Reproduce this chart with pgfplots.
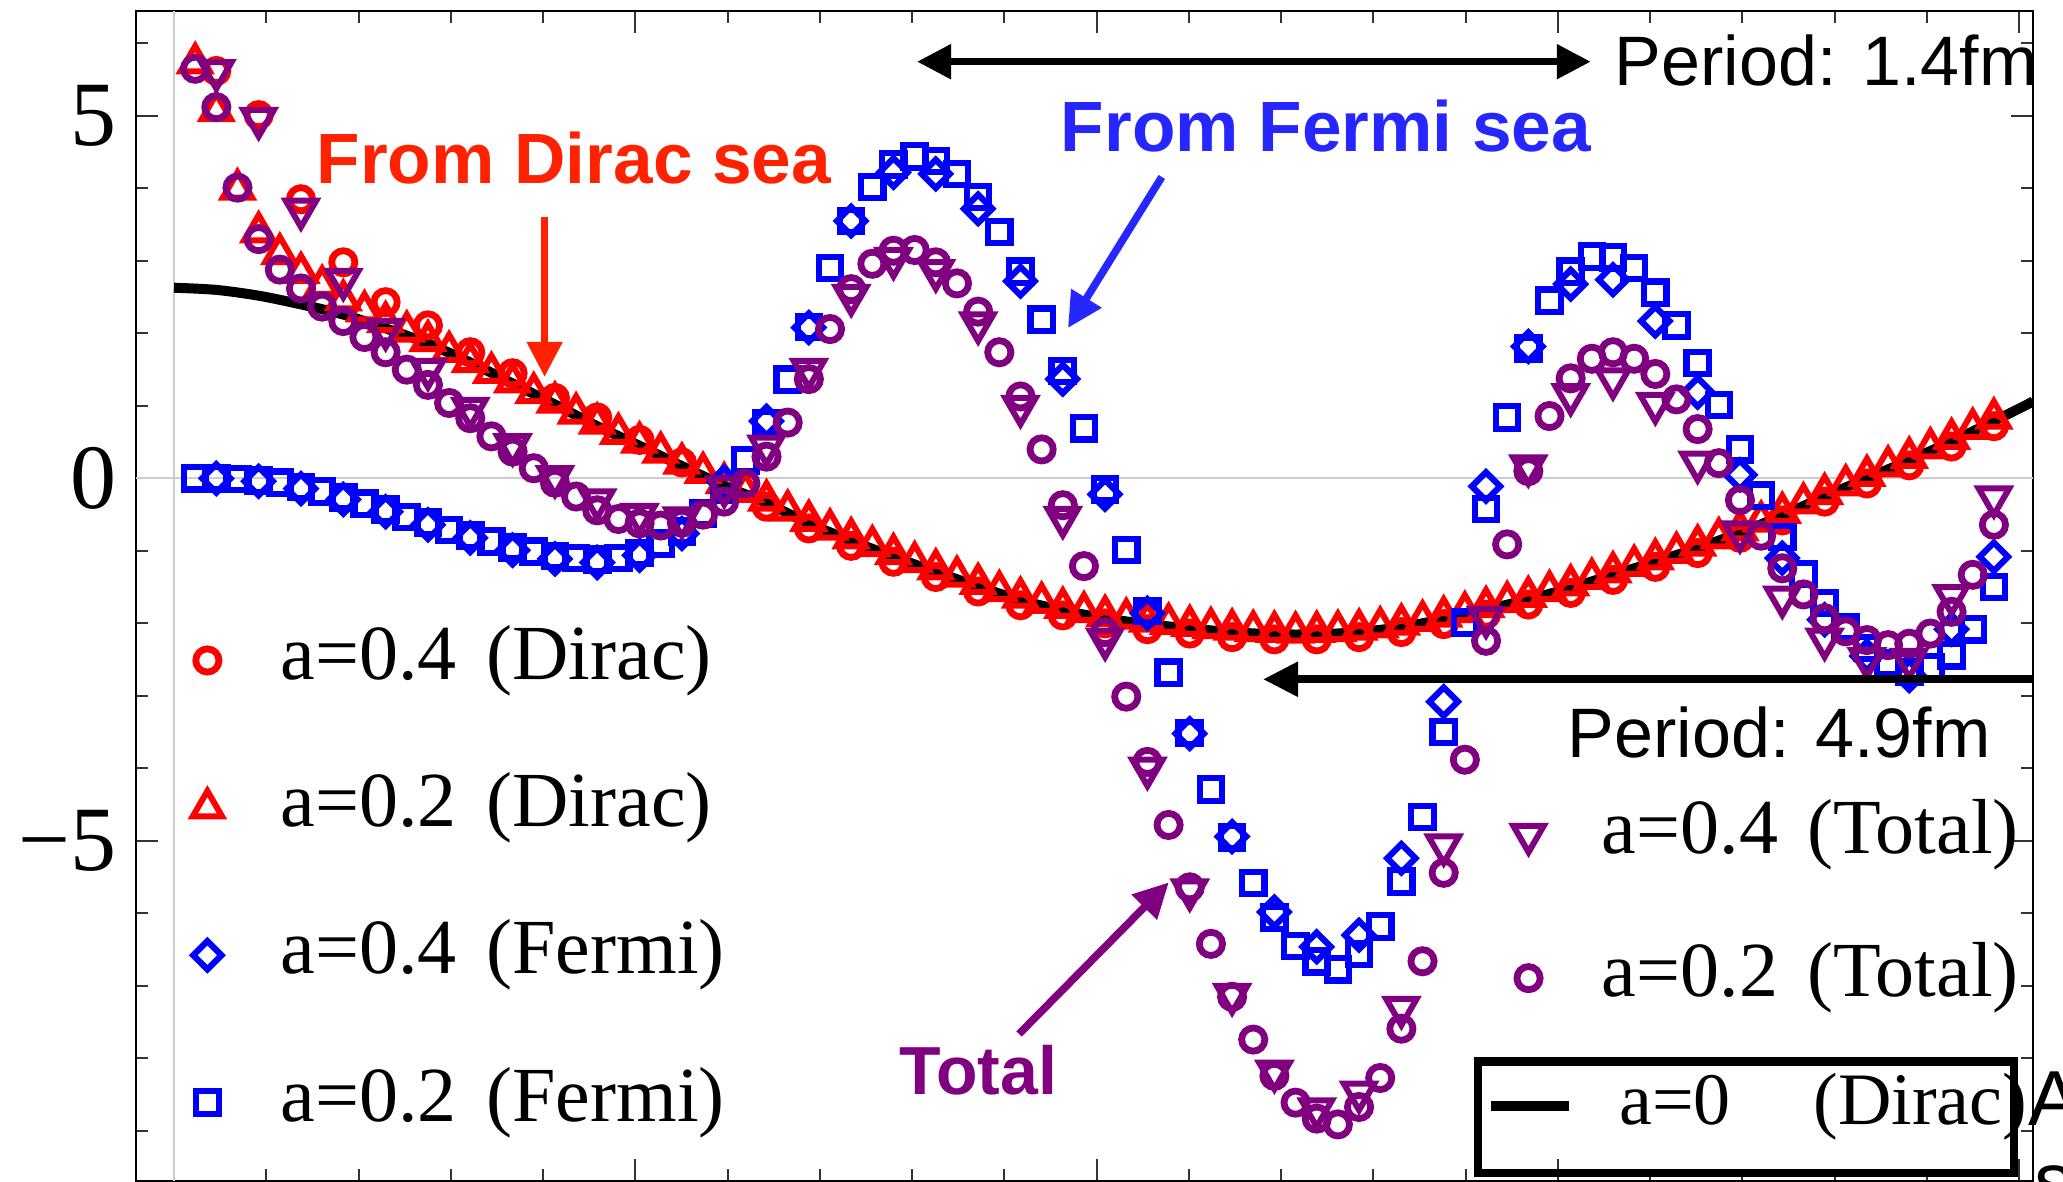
\documentclass[border=0pt]{standalone}
\usepackage{fontspec}
\setmainfont{Liberation Serif}
\newfontfamily\lsans{Liberation Sans}
\usepackage{pgfplots}
\usepackage{pgfplotstable}
\pgfplotsset{compat=1.18}
\usetikzlibrary{arrows.meta}
\definecolor{mred}{RGB}{255,0,0}
\definecolor{mblue}{RGB}{0,0,255}
\definecolor{mpurple}{RGB}{128,0,128}
\definecolor{annred}{RGB}{255,34,0}
\definecolor{annblue}{RGB}{38,38,255}
\definecolor{gridgray}{RGB}{205,205,205}
\tikzset{
  mcirc/.style={line width=1.7bp},
  msq/.style={line width=1.55bp},
  mtri/.style={line width=1.5bp},
}

% a = 0.2 : Dirac sea, Fermi sea, total
\pgfplotstableread{
k dirac fermi total
1 5.73 0.00 5.65
2 5.07 0.00 5.12
3 3.99 -0.01 4.01
4 3.40 -0.03 3.30
5 3.10 -0.06 2.88
6 2.84 -0.12 2.62
7 2.66 -0.18 2.37
8 2.46 -0.26 2.17
9 2.31 -0.35 1.95
10 2.16 -0.43 1.74
11 2.03 -0.53 1.50
12 1.90 -0.61 1.29
13 1.75 -0.71 1.04
14 1.61 -0.79 0.83
15 1.46 -0.87 0.58
16 1.33 -0.95 0.37
17 1.18 -1.01 0.14
18 1.05 -1.07 -0.06
19 0.90 -1.10 -0.25
20 0.76 -1.12 -0.44
21 0.62 -1.10 -0.56
22 0.50 -1.03 -0.62
23 0.36 -0.90 -0.65
24 0.21 -0.73 -0.61
25 0.08 -0.48 -0.50
26 -0.06 -0.15 -0.32
27 -0.18 0.25 -0.07
28 -0.30 0.76 0.30
29 -0.44 1.36 0.77
30 -0.58 2.09 1.37
31 -0.70 2.90 2.06
32 -0.82 3.55 2.61
33 -0.93 4.02 2.96
34 -1.04 4.33 3.14
35 -1.15 4.44 3.15
36 -1.25 4.38 2.98
37 -1.35 4.20 2.69
38 -1.45 3.88 2.30
39 -1.55 3.40 1.74
40 -1.64 2.85 1.13
41 -1.71 2.19 0.40
42 -1.78 1.48 -0.37
43 -1.84 0.69 -1.21
44 -1.89 -0.15 -2.12
45 -1.93 -0.99 -3.01
46 -1.97 -1.83 -3.91
47 -2.00 -2.68 -4.78
48 -2.03 -3.51 -5.64
49 -2.06 -4.29 -6.42
50 -2.08 -4.95 -7.15
51 -2.10 -5.58 -7.74
52 -2.11 -6.06 -8.24
53 -2.12 -6.45 -8.61
54 -2.11 -6.66 -8.83
55 -2.10 -6.77 -8.91
56 -2.08 -6.56 -8.67
57 -2.05 -6.18 -8.27
58 -2.01 -5.56 -7.59
59 -1.96 -4.67 -6.66
60 -1.90 -3.50 -5.44
61 -1.84 -1.99 -3.88
62 -1.77 -0.42 -2.24
63 -1.70 0.84 -0.91
64 -1.63 1.79 0.10
65 -1.55 2.45 0.86
66 -1.47 2.85 1.38
67 -1.38 3.06 1.65
68 -1.29 3.05 1.74
69 -1.20 2.90 1.65
70 -1.11 2.56 1.44
71 -1.02 2.11 1.09
72 -0.92 1.59 0.68
73 -0.82 1.01 0.21
74 -0.71 0.40 -0.30
75 -0.59 -0.24 -0.79
76 -0.47 -0.81 -1.24
77 -0.34 -1.32 -1.60
78 -0.21 -1.72 -1.93
79 -0.09 -2.05 -2.11
80 0.04 -2.34 -2.23
81 0.17 -2.55 -2.30
82 0.29 -2.67 -2.28
83 0.42 -2.60 -2.14
84 0.55 -2.44 -1.84
85 0.69 -2.08 -1.33
86 0.83 -1.50 -0.64
}\tabA

% a = 0.4 : Dirac sea, Fermi sea, total
\pgfplotstableread{
k dirac fermi total
2 5.62 0.00 5.62
4 5.01 -0.04 4.96
6 3.85 -0.14 3.71
8 2.98 -0.29 2.74
10 2.43 -0.46 2.05
12 2.11 -0.64 1.50
14 1.74 -0.82 0.96
16 1.45 -0.99 0.46
18 1.11 -1.11 0.02
20 0.84 -1.16 -0.30
22 0.53 -1.06 -0.50
24 0.22 -0.76 -0.55
26 -0.12 -0.05 -0.12
28 -0.39 0.79 0.44
30 -0.69 2.08 1.50
32 -0.93 3.55 2.52
34 -1.15 4.22 3.03
36 -1.36 4.20 2.86
38 -1.56 3.72 2.14
40 -1.75 2.72 0.99
42 -1.89 1.37 -0.54
44 -2.00 -0.22 -2.22
46 -2.08 -1.86 -4.00
48 -2.14 -3.52 -5.68
50 -2.19 -4.94 -7.12
52 -2.22 -5.98 -8.18
54 -2.22 -6.46 -8.70
56 -2.19 -6.30 -8.47
58 -2.12 -5.24 -7.30
60 -2.01 -3.08 -5.06
62 -1.88 -0.11 -1.92
64 -1.74 1.82 0.17
66 -1.58 2.68 1.15
68 -1.40 2.74 1.37
70 -1.22 2.17 1.03
72 -1.03 1.19 0.22
74 -0.82 0.05 -0.74
76 -0.58 -1.10 -1.64
78 -0.32 -1.95 -2.22
80 -0.07 -2.45 -2.49
82 0.18 -2.72 -2.50
84 0.44 -2.08 -1.62
86 0.72 -1.08 -0.26
}\tabB

% a = 0 (Dirac), continuum curve
\pgfplotstableread{
k v
0 2.63
2 2.60
4 2.52
6 2.40
8 2.26
10 2.07
12 1.86
14 1.60
16 1.31
18 1.02
20 0.72
22 0.45
24 0.17
26 -0.10
28 -0.34
30 -0.62
32 -0.86
34 -1.08
36 -1.29
38 -1.49
40 -1.68
42 -1.82
44 -1.93
46 -2.01
48 -2.07
50 -2.12
52 -2.15
54 -2.15
56 -2.12
58 -2.05
60 -1.94
62 -1.81
64 -1.67
66 -1.51
68 -1.33
70 -1.15
72 -0.96
74 -0.75
76 -0.51
78 -0.25
80 0.00
82 0.25
84 0.51
86 0.79
87.85 1.06
}\tabC

\pgfplotsset{
  base/.style={at={(34bp,0.375bp)}, anchor=south west, scale only axis,
    width=474.25bp, height=292.45bp,
    xmin=-1.796, xmax=87.85, ymin=-9.684, ymax=6.451},
  legbase/.style={draw=none, fill=none, inner sep=0pt, outer sep=0pt,
    column sep=0pt, font=\fontsize{19.5bp}{19.5bp}\selectfont,
    nodes={inner sep=0pt, text height=13.65bp, text depth=4.29bp}},
  markleg/.style={legend image code/.code={%
    \draw[##1] plot coordinates {(0bp,0bp)};
    \path (-6bp,0bp) (17.5bp,0bp);}},
}

\begin{document}
\begin{tikzpicture}
\begin{axis}[base,
  axis line style={line width=0.5bp, black},
  tick align=inside,
  xtick={0,21.7984,43.5968,65.3952,87.1936}, xticklabels={},
  minor xtick={4.3597,8.7194,13.0790,17.4387,26.1581,30.5178,34.8774,39.2371,47.9565,52.3162,56.6758,61.0355,69.7549,74.1146,78.4742,82.8339},
  ytick={-5,0,5}, yticklabels={−5,0,5},
  minor ytick={-9,-8,-7,-6,-4,-3,-2,-1,1,2,3,4,6},
  major tick length=5.5bp, minor tick length=3bp,
  tick style={line width=0.5bp, black!80},
  yticklabel style={font=\fontsize{23bp}{23bp}\selectfont, inner sep=0pt, xshift=-4.75bp},
  extra x ticks={0}, extra x tick labels={}, extra x tick style={grid=major, major tick length=0pt},
  extra y ticks={0}, extra y tick labels={}, extra y tick style={grid=major, major tick length=0pt},
  major grid style={gridgray, line width=0.5bp},
  markleg,
  legend cell align=left,
  legend style={legbase, at={(0.0232,0.4752)}, anchor=north west, row sep=18.9bp},
]
\addplot[forget plot, only marks, mark=triangle, color=mred, mark size=4.2bp, mtri, mark options={solid, mtri}] table[x=k, y=dirac]{\tabA};
\addplot[forget plot, only marks, mark=o, color=mred, mark size=2.9bp, mcirc, mark options={solid, mcirc}] table[x=k, y=dirac]{\tabB};
\addplot[forget plot, only marks, mark=square, color=mblue, mark size=2.5bp, msq, mark options={solid, rotate=45, msq}] table[x=k, y=fermi]{\tabB};
\addplot[forget plot, only marks, mark=square, color=mblue, mark size=2.8bp, msq, mark options={solid, msq}] table[x=k, y=fermi]{\tabA};
\addplot[forget plot, only marks, mark=triangle, color=mpurple, mark size=4.4bp, mtri, mark options={solid, rotate=180, mtri}] table[x=k, y=total]{\tabB};
\addplot[forget plot, only marks, mark=o, color=mpurple, mark size=2.9bp, mcirc, mark options={solid, mcirc}] table[x=k, y=total]{\tabA};
\addplot[forget plot, draw=black, line width=2.5bp, smooth, no marks] table[x=k, y=v]{\tabC};

\addlegendimage{only marks, mark=o, color=mred, mark size=2.9bp, mcirc, mark options={solid, mcirc}}
\addlegendentry{a=0.4\hspace{2.5bp} (Dirac)}
\addlegendimage{only marks, mark=triangle, color=mred, mark size=4.2bp, mtri, mark options={solid, mtri}}
\addlegendentry{a=0.2\hspace{2.5bp} (Dirac)}
\addlegendimage{only marks, mark=square, color=mblue, mark size=2.5bp, msq, mark options={solid, rotate=45, msq}}
\addlegendentry{a=0.4\hspace{2.5bp} (Fermi)}
\addlegendimage{only marks, mark=square, color=mblue, mark size=2.8bp, msq, mark options={solid, msq}}
\addlegendentry{a=0.2\hspace{2.5bp} (Fermi)}
\end{axis}

\begin{axis}[base, hide axis, markleg,
  legend cell align=left,
  legend style={legbase, at={(0.7196,0.3264)}, anchor=north west, row sep=17.96bp}]
\addlegendimage{only marks, mark=triangle, color=mpurple, mark size=4.4bp, mtri, mark options={solid, rotate=180, mtri}}
\addlegendentry{a=0.4\hspace{2.5bp} (Total)}
\addlegendimage{only marks, mark=o, color=mpurple, mark size=2.9bp, mcirc, mark options={solid, mcirc}}
\addlegendentry{a=0.2\hspace{2.5bp} (Total)}
\end{axis}

\begin{axis}[base, hide axis,
  legend image code/.code={\draw[#1] (0bp,0bp) -- (19.5bp,0bp); \path (0bp,0bp) (30.75bp,0bp);},
  legend cell align=left,
  legend style={legbase, font=\fontsize{18.5bp}{18.5bp}\selectfont, at={(0.7117,0.0637)}, anchor=west}]
\addlegendimage{draw=black, line width=2.5bp}
\addlegendentry{\makebox[99.25bp][l]{a=0\hspace{20.75bp}(Dirac)}}
\end{axis}

\begin{scope}[x=0.25bp, y=-0.25bp, yshift=295.5bp]
  % annotations
  \node[anchor=base west, inner sep=0pt, text=annred, font=\lsans\bfseries\fontsize{17.8bp}{17.8bp}\selectfont] at (316,183.3) {From Dirac sea};
  \draw[annred, line width=1.9bp, -{Triangle[length=8.75bp, width=8.5bp]}] (544.6,217) -- (544.6,377);
  \node[anchor=base west, inner sep=0pt, text=annblue, font=\lsans\bfseries\fontsize{17.8bp}{17.8bp}\selectfont] at (1060,151.7) {From Fermi sea};
  \draw[annblue, line width=1.9bp, -{Triangle[length=8.75bp, width=8.5bp]}] (1161.8,177) -- (1068,328);
  \node[anchor=base west, inner sep=0pt, text=mpurple, font=\lsans\bfseries\fontsize{17bp}{17bp}\selectfont] at (899,1094.8) {Total};
  \draw[mpurple, line width=1.9bp, -{Triangle[length=8.75bp, width=8.5bp]}] (1019,1034) -- (1168.8,882.4);
  \draw[black, line width=1.9bp, {Triangle[length=8.5bp, width=8.3bp]}-{Triangle[length=8.5bp, width=8.3bp]}] (917,61.7) -- (1590.8,61.7);
  \node[anchor=base west, inner sep=0pt, font=\lsans\fontsize{17.5bp}{17.5bp}\selectfont] at (1614,86) {Period: 1.4fm};
  \draw[black, line width=2bp, {Triangle[length=8.75bp, width=8.3bp]}-] (1263,679.3) -- (2033,679.3);
  \node[anchor=base west, inner sep=0pt, font=\lsans\fontsize{17.5bp}{17.5bp}\selectfont] at (1567,758) {Period: 4.9fm};
  % frame of the a=0 legend
  \draw[black, line width=2.1bp] (1477.8,1061.5) rectangle (2014.2,1173.2);
  % cut-off text at the right edge
  \node[anchor=base west, inner sep=0pt, font=\lsans\fontsize{19.5bp}{19.5bp}\selectfont] at (2028,1125.5) {A};
  \node[anchor=base west, inner sep=0pt, font=\lsans\fontsize{19.5bp}{19.5bp}\selectfont] at (2034,1208) {s};
  \pgfresetboundingbox
  \path[use as bounding box] (0,0) rectangle (2063,1182);
\end{scope}
\end{tikzpicture}
\end{document}
